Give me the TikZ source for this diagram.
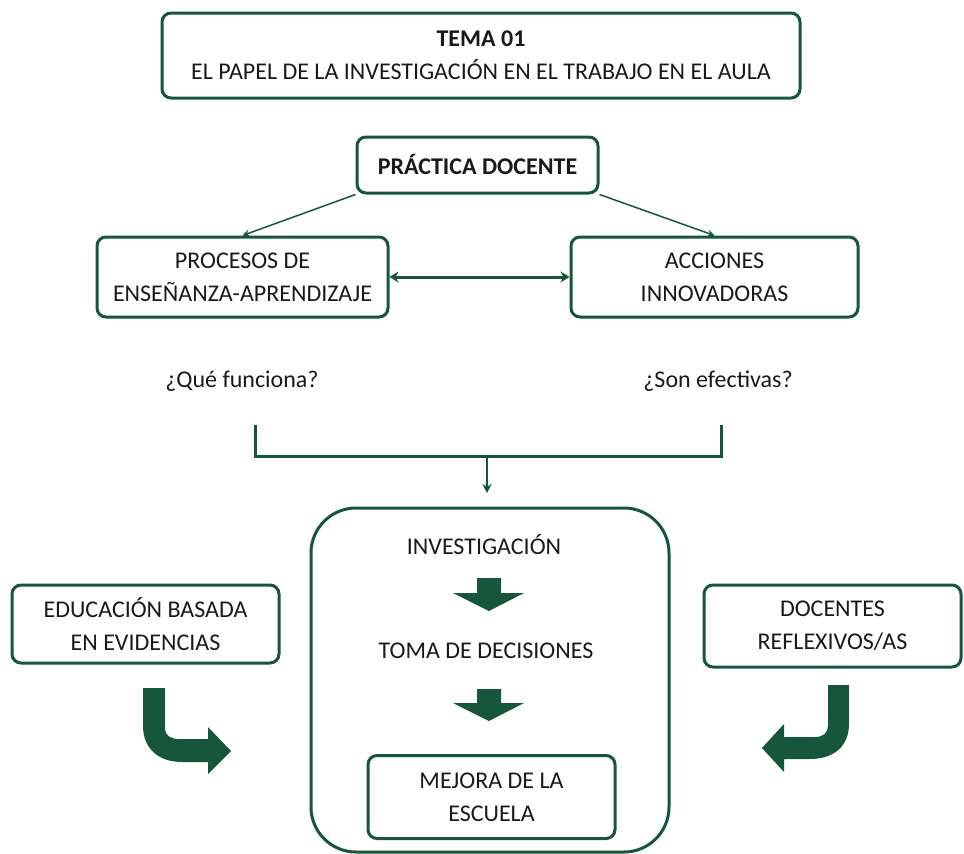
\documentclass[tikz,border=0pt]{standalone}
\usepackage{fontspec}
\usetikzlibrary{arrows.meta}
\setmainfont{Carlito}
\definecolor{verde}{RGB}{22,86,60}
\definecolor{texto}{RGB}{25,25,25}
\tikzset{
  caja/.style={draw=verde,line width=3pt,rounded corners=9pt,align=center,inner sep=0pt,text=texto},
  rotulo/.style={align=center,text=texto,inner sep=0pt},
  flecha/.style={draw=verde,line width=2.2pt,-{Stealth[length=9pt,width=9pt]}},
}
\begin{document}
\begin{tikzpicture}[x=1pt,y=-1pt,font=\fontsize{24}{33}\selectfont]
  \useasboundingbox (0,0) rectangle (964,854);
  % cajas de arriba
  \node[caja,minimum width=638,minimum height=85] (tema) at (481,55.5) {\textbf{TEMA 01}\\EL PAPEL DE LA INVESTIGACIÓN EN EL TRABAJO EN EL AULA};
  \node[caja,minimum width=241,minimum height=56] (practica) at (477.5,165) {\textbf{PRÁCTICA DOCENTE}};
  \node[caja,minimum width=291,minimum height=80] (procesos) at (242.5,277) {PROCESOS DE\\ENSEÑANZA-APRENDIZAJE};
  \node[caja,minimum width=287,minimum height=80] (acciones) at (714.5,277) {ACCIONES\\INNOVADORAS};
  \draw[flecha,line width=1.5pt,-{Stealth[length=7pt,width=7pt]}] (practica.south west) -- (procesos.north);
  \draw[flecha,line width=1.5pt,-{Stealth[length=7pt,width=7pt]}] (practica.south east) -- (acciones.north);
  \draw[flecha,line width=3pt,{Stealth[length=9pt,width=11pt]}-{Stealth[length=9pt,width=11pt]}] (procesos.east) -- (acciones.west);
  % preguntas y llave
  \node[rotulo] (funciona) at (242,381) {¿Qué funciona?};
  \node[rotulo] (efectivas) at (718,381) {¿Son efectivas?};
  \coordinate (b1) at (255,425);
  \coordinate (b2) at (721,425);
  \coordinate (b3) at (487,456);
  \coordinate (b4) at (487,493);
  \draw[verde,line width=3pt] (b1) |- (b2 |- b3) -- (b2);
  \draw[flecha] (b3) -- (b4);
  % caja central
  \node[caja,rounded corners=45pt,minimum width=358,minimum height=344] (marco) at (490,680) {};
  \node[rotulo] (investigacion) at (484,545) {INVESTIGACIÓN};
  \node[rotulo] (toma) at (486,651) {TOMA DE DECISIONES};
  \node[caja,minimum width=247,minimum height=83] (mejora) at (491.5,797) {MEJORA DE LA\\ESCUELA};
  \fill[verde] (477,578) -- (501,578) -- (501,593) -- (524,593) -- (489,611) -- (453,593) -- (477,593) -- cycle;
  \fill[verde] (477,689) -- (501,689) -- (501,703) -- (524,703) -- (489,721) -- (453,703) -- (477,703) -- cycle;
  % cajas laterales
  \node[caja,minimum width=267,minimum height=78] (educacion) at (145.5,624) {EDUCACIÓN BASADA\\EN EVIDENCIAS};
  \node[caja,minimum width=257,minimum height=82] (docentes) at (832.5,626) {DOCENTES\\REFLEXIVOS/AS};
  \fill[verde] (143,688) -- (165,688) -- (165,728) .. controls (165,736) and (171,739) .. (179,739) -- (208,739) -- (208,727) -- (231,751) -- (208,774) -- (208,762) -- (182,762) .. controls (158,762) and (143,748) .. (143,726) -- cycle;
  \fill[verde] (849,685) -- (828,685) -- (828,726) .. controls (828,733) and (823,737) .. (815,737) -- (784,737) -- (784,724) -- (762,748) -- (784,772) -- (784,759) -- (810,759) .. controls (834,759) and (849,746) .. (849,724) -- cycle;
\end{tikzpicture}
\end{document}
